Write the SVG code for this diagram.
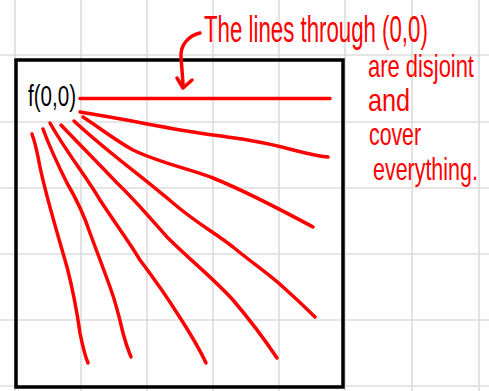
<svg xmlns="http://www.w3.org/2000/svg" width="489" height="391" viewBox="0 0 489 391">
<style>
.grid line{stroke:#dcdcdc;stroke-width:1.6}
.ray{fill:none;stroke:#ff0000;stroke-width:3.5;stroke-linecap:round;stroke-linejoin:round}
.hand{font-family:"Liberation Sans",Arial,sans-serif;fill:#ff0000}
</style>
<rect width="489" height="391" fill="#ffffff"/>
<g class="grid" id="grid">
<line x1="15" y1="0" x2="15" y2="391"/><line x1="81" y1="0" x2="81" y2="391"/><line x1="147" y1="0" x2="147" y2="391"/><line x1="213" y1="0" x2="213" y2="391"/><line x1="279" y1="0" x2="279" y2="391"/><line x1="345" y1="0" x2="345" y2="391"/><line x1="412" y1="0" x2="412" y2="391"/><line x1="479" y1="0" x2="479" y2="391"/>
<line x1="0" y1="55" x2="489" y2="55"/><line x1="0" y1="122" x2="489" y2="122"/><line x1="0" y1="188" x2="489" y2="188"/><line x1="0" y1="254" x2="489" y2="254"/><line x1="0" y1="320" x2="489" y2="320"/><line x1="0" y1="386" x2="489" y2="386"/>
</g>
<g id="box"><rect x="16" y="60" width="327" height="327" fill="none" stroke="#000" stroke-width="3.5"/></g>
<g id="origin"><text transform="translate(28,106) scale(0.686,1)" x="0" y="0" font-family="Liberation Sans, Arial, sans-serif" font-size="30" textLength="70" lengthAdjust="spacingAndGlyphs" fill="#000">f(0,0)</text></g>
<g id="connectors">
<path class="ray" d="M80 98.5 L330 98.5"/>
<path class="ray" d="M80 112 C130 120 175 130 213 135 C235 138 245 139 253 141 C285 146 305 155 328 157"/>
<path class="ray" d="M83 117 C100 128 115 140 133 150 C160 163 190 169 213 178 C250 193 285 212 313 227"/>
<path class="ray" d="M74 121 C105 150 140 175 173 203 C195 222 215 233 233 247 C255 265 270 275 283 287 C300 302 308 310 315 317"/>
<path class="ray" d="M61 125 C80 145 100 165 117 183 C135 200 150 218 167 237 C190 260 213 278 233 300 C250 320 265 340 277 358"/>
<path class="ray" d="M50 123 C65 150 85 175 100 200 C115 223 128 240 140 260 C155 280 167 297 177 313 C190 333 200 350 206 363"/>
<path class="ray" d="M43 129 C50 148 58 165 67 183 C77 200 84 215 90 233 C97 252 104 270 110 287 C116 303 120 320 123 333 C126 345 129 352 131 357"/>
<path class="ray" d="M32 134 C36 145 38 156 40 167 C47 200 58 235 67 267 C73 290 77 312 80 333 C83 348 85 356 88 363"/>
</g>
<g id="annotation">
<text class="hand" transform="translate(204,42) scale(0.62,1)" x="0" y="0" font-size="36" textLength="361" lengthAdjust="spacingAndGlyphs">The lines through (0,0)</text>
<path class="ray" stroke-width="3" d="M200 33 C188 36 180 45 181 58 C182 70 183 80 183 87"/>
<path class="ray" stroke-width="3" d="M177 78 L183 88 L192 80"/>
<text class="hand" transform="translate(368,77) scale(0.685,1)" x="0" y="0" font-size="32" textLength="154.7" lengthAdjust="spacingAndGlyphs">are disjoint</text>
<text class="hand" transform="translate(368,111) scale(0.79,1)" x="0" y="0" font-size="32" textLength="53.4" lengthAdjust="spacingAndGlyphs">and</text>
<text class="hand" transform="translate(369,145) scale(0.665,1)" x="0" y="0" font-size="32" textLength="78.2" lengthAdjust="spacingAndGlyphs">cover</text>
<text class="hand" transform="translate(373,180) scale(0.67,1)" x="0" y="0" font-size="32" textLength="156.5" lengthAdjust="spacingAndGlyphs">everything.</text>
</g>
</svg>
